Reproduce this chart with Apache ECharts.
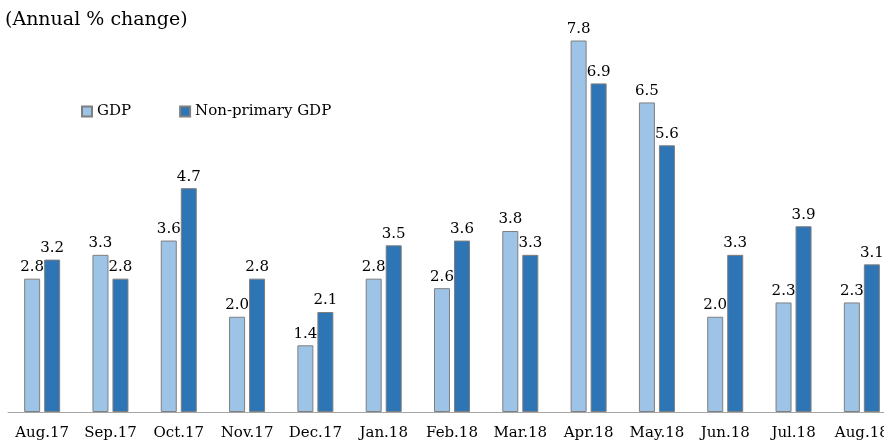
<!DOCTYPE html>
<html>
<head>
<meta charset="utf-8">
<script src="https://cdn.jsdelivr.net/npm/echarts@6/dist/echarts.min.js"></script>
<style>
  html, body { margin: 0; padding: 0; background: #fff; }
  #chart { width: 884px; height: 446px; }
</style>
</head>
<body>
<div id="chart"></div>
<script>
// categories (months)
var months = ['Aug.17', 'Sep.17', 'Oct.17', 'Nov.17', 'Dec.17', 'Jan.18', 'Feb.18',
    'Mar.18', 'Apr.18', 'May.18', 'Jun.18', 'Jul.18', 'Aug.18'];

// annual % change
var gdp = [2.8, 3.3, 3.6, 2.0, 1.4, 2.8, 2.6, 3.8, 7.8, 6.5, 2.0, 2.3, 2.3];
var nonPrimaryGdp = [3.2, 2.8, 4.7, 2.8, 2.1, 3.5, 3.6, 3.3, 6.9, 5.6, 3.3, 3.9, 3.1];

var fontFamily = '"DejaVu Serif", serif';

var chart = echarts.init(document.getElementById('chart'));

var labelStyle = {
    show: true,
    position: 'top',
    distance: 4,
    color: '#000',
    fontFamily: fontFamily,
    fontSize: 15,
    formatter: function (p) { return p.value.toFixed(1); }
};

var option = {
    animation: false,
    title: {
        text: '(Annual % change)',
        left: 0,
        top: 6,
        textStyle: { fontFamily: fontFamily, fontSize: 19, fontWeight: 'normal', color: '#000' }
    },
    legend: {
        left: 76,
        top: 99,
        itemWidth: 10,
        itemHeight: 10,
        itemGap: 48,
        textStyle: { fontFamily: fontFamily, fontSize: 15, color: '#000' },
        data: [
            { name: 'GDP', icon: 'rect' },
            { name: 'Non-primary GDP', icon: 'rect' }
        ]
    },
    grid: { left: 8, width: 888, top: 31, bottom: 34, containLabel: false, outerBoundsMode: 'none' },
    xAxis: {
        type: 'category',
        data: months,
        axisLine: { lineStyle: { color: '#a6a6a6', width: 1 } },
        axisTick: { show: false },
        axisLabel: { color: '#000', fontFamily: fontFamily, fontSize: 15, margin: 14, interval: 0 }
    },
    yAxis: {
        type: 'value',
        min: 0,
        max: 8,
        show: false,
        splitLine: { show: false }
    },
    series: [
        {
            name: 'GDP',
            type: 'bar',
            data: gdp,
            barWidth: 16,
            barGap: '25%',
            itemStyle: { color: '#9dc3e6', borderColor: '#7f7f7f', borderWidth: 1 },
            label: labelStyle
        },
        {
            name: 'Non-primary GDP',
            type: 'bar',
            data: nonPrimaryGdp,
            barWidth: 16,
            itemStyle: { color: '#2e75b6', borderColor: '#7f7f7f', borderWidth: 1 },
            label: labelStyle
        }
    ]
};

chart.setOption(option);
</script>
</body>
</html>
